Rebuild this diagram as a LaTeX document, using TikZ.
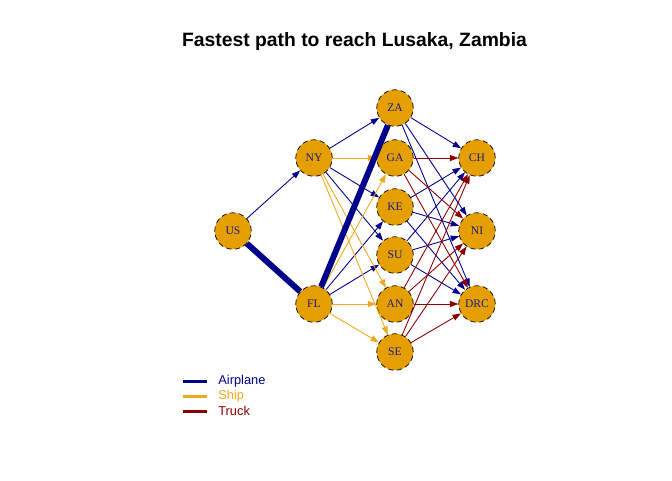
\documentclass[tikz,border=0pt]{standalone}
\usepackage{fontspec}
\setmainfont{Liberation Serif}
\setsansfont{Liberation Sans}
\usepackage{tikz}
\usetikzlibrary{positioning,arrows.meta}
\definecolor{citycol}{RGB}{230,159,0}
\definecolor{aircol}{RGB}{0,0,139}
\definecolor{shipcol}{RGB}{238,169,31}
\definecolor{truckcol}{RGB}{139,0,0}
\definecolor{labcol}{RGB}{25,25,130}

\begin{document}
\begin{tikzpicture}[x=0.02cm, y=-0.02cm,
  city/.style={circle, draw=black, densely dashed, thin, fill=citycol, minimum size=0.73cm,
               inner sep=0pt, font=\fontsize{6.6}{7.5}\selectfont, text=labcol},
  air/.style={-{Triangle[length=4.8pt,width=3.4pt]}, draw=aircol, line width=0.5pt},
  ship/.style={-{Triangle[length=4.8pt,width=3.4pt]}, draw=shipcol, line width=0.5pt},
  truck/.style={-{Triangle[length=4.8pt,width=3.4pt]}, draw=truckcol, line width=0.5pt},
  fast/.style={draw=aircol, line width=3.4pt},
  key/.style={line width=1.7pt},
  lb/.style={font=\sffamily\fontsize{7.3}{8.5}\selectfont, text=#1, anchor=west, inner sep=0pt}
]
\useasboundingbox (0,0) rectangle (672,480);

\node[font=\sffamily\bfseries\fontsize{11}{13}\selectfont] (title) at (354.5,42)
    {Fastest path to reach Lusaka, Zambia};

% cities
\node[city] (US)  at (233,231) {US};
\node[city] (NY)  at (314,158) {NY};
\node[city] (FL)  at (314,304) {FL};
\node[city] (ZA)  at (395,108) {ZA};
\node[city] (GA)  at (395,158) {GA};
\node[city] (KE)  at (395,207) {KE};
\node[city] (SU)  at (395,255) {SU};
\node[city] (AN)  at (395,304) {AN};
\node[city] (SE)  at (395,352) {SE};
\node[city] (CH)  at (477,158) {CH};
\node[city] (NI)  at (477,231) {NI};
\node[city] (DRC) at (477,304) {DRC};

% routes
\draw[air] (US) -- (NY);
\foreach \t in {ZA,KE,SU}
  \draw[air] (NY) -- (\t);
\foreach \t in {KE,SU}
  \draw[air] (FL) -- (\t);
\foreach \s in {NY,FL}
  \foreach \t in {GA,AN,SE}
    \draw[ship] (\s) -- (\t);
\foreach \s in {ZA,KE,SU}
  \foreach \t in {CH,NI,DRC}
    \draw[air] (\s) -- (\t);
\foreach \s in {GA,AN,SE}
  \foreach \t in {CH,NI,DRC}
    \draw[truck] (\s) -- (\t);

% fastest path
\draw[fast] (US) -- (FL);
\draw[fast] (FL) -- (ZA);

% legend
\coordinate (k1) at (183,381);
\coordinate (k2) at (183,396);
\coordinate (k3) at (183,411);
\draw[key, aircol]   (k1) -- ++(24,0) coordinate (k1e);
\draw[key, shipcol]  (k2) -- ++(24,0) coordinate (k2e);
\draw[key, truckcol] (k3) -- ++(24,0) coordinate (k3e);
\node[lb=aircol,   right=11*0.02cm of k1e] (lair)   {Airplane};
\node[lb=shipcol,  right=11*0.02cm of k2e] (lship)  {Ship};
\node[lb=truckcol, right=11*0.02cm of k3e] (ltruck) {Truck};

\end{tikzpicture}
\end{document}
